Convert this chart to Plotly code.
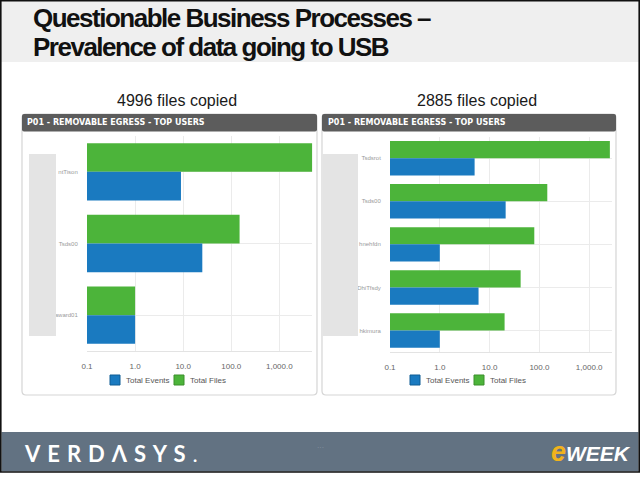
import math
import plotly.graph_objects as go

W, H = 640, 480

# ---------------- data ----------------
left_users = ["ntTison", "Tsds00", "Aaaaward01"]
left_events = [9, 25, 1]
left_files = [4846, 149, 1]

right_users = ["Tsdsrot", "Tsds00", "hnehfdn", "DhiTfsdy", "hkimura"]
right_events = [5, 21, 1, 6, 1]
right_files = [2600, 144, 79, 42, 20]

tick_vals = [0.1, 1, 10, 100, 1000]
tick_text = ["0.1", "1.0", "10.0", "100.0", "1,000.0"]

series_names = ["Total Events", "Total Files"]
left_title = "4996 files copied"
right_title = "2885 files copied"
panel_header = "P01 - REMOVABLE EGRESS - TOP USERS"
slide_title_1 = "Questionable Business Processes –"
slide_title_2 = "Prevalence of data going to USB"

BLUE = "#1a7ac0"
GREEN = "#4cb43a"


def px(x):
    return x / W


def py(y):
    return 1 - y / H


fig = go.Figure()

# files first so it sits on top within each group (y axis reversed)
fig.add_trace(go.Bar(y=left_users, x=left_files, orientation="h", name=series_names[1],
                     marker=dict(color=GREEN, line=dict(width=0)), xaxis="x", yaxis="y",
                     showlegend=False))
fig.add_trace(go.Bar(y=left_users, x=left_events, orientation="h", name=series_names[0],
                     marker=dict(color=BLUE, line=dict(width=0)), xaxis="x", yaxis="y",
                     showlegend=False))
fig.add_trace(go.Bar(y=right_users, x=right_files, orientation="h", name=series_names[1],
                     marker=dict(color=GREEN, line=dict(width=0)), xaxis="x2", yaxis="y2",
                     showlegend=False))
fig.add_trace(go.Bar(y=right_users, x=right_events, orientation="h", name=series_names[0],
                     marker=dict(color=BLUE, line=dict(width=0)), xaxis="x2", yaxis="y2",
                     showlegend=False))

xcommon = dict(type="log", tickvals=tick_vals, ticktext=tick_text, showgrid=True,
               gridcolor="#ebebeb", gridwidth=1, zeroline=False, showline=True,
               linecolor="#e3e3e3", linewidth=1, ticks="outside", ticklen=7,
               tickcolor="rgba(0,0,0,0)", automargin=False,
               tickfont=dict(family="Liberation Sans, Arial", size=8, color="#666666"),
               fixedrange=True)
ycommon = dict(autorange="reversed", showgrid=True, gridcolor="#ebebeb", gridwidth=1,
               showline=False, zeroline=False, ticks="outside", ticklen=7,
               tickcolor="rgba(0,0,0,0)", automargin=False,
               tickfont=dict(family="Liberation Sans, Arial", size=6, color="#9a9a9a"))

fig.update_layout(
    width=W, height=H, autosize=False,
    margin=dict(l=0, r=0, t=0, b=0, pad=0),
    paper_bgcolor="white", plot_bgcolor="white",
    barmode="group", bargap=0.2, bargroupgap=0,
    showlegend=False,
    xaxis=dict(domain=[px(87), px(312.3)], range=[-1, math.log10(4846)], anchor="y", **xcommon),
    yaxis=dict(domain=[py(351), py(136)], anchor="x", **ycommon),
    xaxis2=dict(domain=[px(390), px(611.7)], range=[-1, math.log10(2830)], anchor="y2", **xcommon),
    yaxis2=dict(domain=[py(352), py(136.7)], anchor="x2", **ycommon),
)


def rounded_rect(x0, y0, x1, y1, r):
    rx, ry = r / W, r / H
    X0, X1 = px(x0), px(x1)
    Y0, Y1 = py(y0), py(y1)
    return (f"M{X0+rx},{Y0} L{X1-rx},{Y0} Q{X1},{Y0} {X1},{Y0-ry} "
            f"L{X1},{Y1+ry} Q{X1},{Y1} {X1-rx},{Y1} L{X0+rx},{Y1} "
            f"Q{X0},{Y1} {X0},{Y1+ry} L{X0},{Y0-ry} Q{X0},{Y0} {X0+rx},{Y0} Z")


shapes = []
shapes.append(dict(type="rect", xref="paper", yref="paper", x0=0, x1=1, y0=py(62), y1=1,
                   fillcolor="#efefef", line=dict(width=0), layer="below"))
for (x0, x1, y1) in [(22, 317, 395), (322, 616, 395)]:
    shapes.append(dict(type="path", xref="paper", yref="paper",
                       path=rounded_rect(x0, 114, x1, y1, 4),
                       fillcolor="white", line=dict(color="#d5d5d5", width=1.2), layer="below"))
    shapes.append(dict(type="path", xref="paper", yref="paper",
                       path=rounded_rect(x0, 114, x1, 131.5, 2),
                       fillcolor="#5c5c5c", line=dict(width=0), layer="below"))
shapes.append(dict(type="rect", xref="paper", yref="paper", x0=px(29), x1=px(56),
                   y0=py(336), y1=py(154), fillcolor="#e4e4e4", line=dict(width=0), layer="above"))
shapes.append(dict(type="rect", xref="paper", yref="paper", x0=px(322.5), x1=px(358),
                   y0=py(336), y1=py(154), fillcolor="#e4e4e4", line=dict(width=0), layer="above"))
# manual legends
for off in [0, 300]:
    for (sx, col, edge) in [(110, BLUE, "#0f5d94"), (174, GREEN, "#3a8f2b")]:
        shapes.append(dict(type="rect", xref="paper", yref="paper", x0=px(sx + off),
                           x1=px(sx + off + 10), y0=py(385), y1=py(375), fillcolor=col,
                           line=dict(color=edge, width=1)))
shapes.append(dict(type="rect", xref="paper", yref="paper", x0=px(1.5), x1=px(638.5),
                   y0=py(471.5), y1=py(432), fillcolor="#627282", line=dict(width=0), layer="below"))
shapes.append(dict(type="rect", xref="paper", yref="paper", x0=px(0.8), x1=px(639.2),
                   y0=py(472), y1=py(0.8), fillcolor="rgba(0,0,0,0)",
                   line=dict(color="#111111", width=1.6), layer="above"))
fig.update_layout(shapes=shapes)

ann = []
for t, yy in [(slide_title_1, 18), (slide_title_2, 46.5)]:
    ann.append(dict(text=f"<b><span style='letter-spacing:-1.5px'>{t}</span></b>",
                    xref="paper", yref="paper", x=px(31), y=py(yy),
                    xanchor="left", yanchor="middle", align="left", showarrow=False,
                    font=dict(family="Liberation Sans, Arial", size=26, color="#111111")))
for t, cx in [(left_title, 177), (right_title, 477)]:
    ann.append(dict(text=t, xref="paper", yref="paper", x=px(cx), y=py(100),
                    xanchor="center", yanchor="middle", showarrow=False,
                    font=dict(family="Liberation Sans, Arial", size=16, color="#1a1a1a")))
for x0 in [25, 326]:
    ann.append(dict(text=f"<b>{panel_header}</b>", xref="paper", yref="paper", x=px(x0), y=py(122.8),
                    xanchor="left", yanchor="middle", showarrow=False,
                    font=dict(family="DejaVu Sans, Verdana", size=8, color="white")))
for off in [0, 300]:
    for (tx, t) in [(124, series_names[0]), (188, series_names[1])]:
        ann.append(dict(text=t, xref="paper", yref="paper", x=px(tx + off), y=py(380),
                        xanchor="left", yanchor="middle", showarrow=False,
                        font=dict(family="Liberation Sans, Arial", size=8, color="#555555")))
ann.append(dict(text="<b><span style='letter-spacing:7px'>VERDΛSYS</span></b>.", xref="paper",
                yref="paper", x=px(22), y=py(453), xanchor="left", yanchor="middle",
                showarrow=False, font=dict(family="Lato, Open Sans", size=22, color="white")))
ann.append(dict(text="<b><i><span style='color:#f1b31c;font-size:27px'>e</span>WEEK</i></b>",
                xref="paper", yref="paper", x=px(633), y=py(452), xanchor="right", yanchor="middle",
                showarrow=False, font=dict(family="Liberation Sans, Arial", size=21, color="white")))
ann.append(dict(text="···", xref="paper", yref="paper", x=px(320), y=py(453), showarrow=False,
                font=dict(family="Liberation Sans", size=7, color="#8c98a5")))
fig.update_layout(annotations=ann)

fig.write_html("out.html")
